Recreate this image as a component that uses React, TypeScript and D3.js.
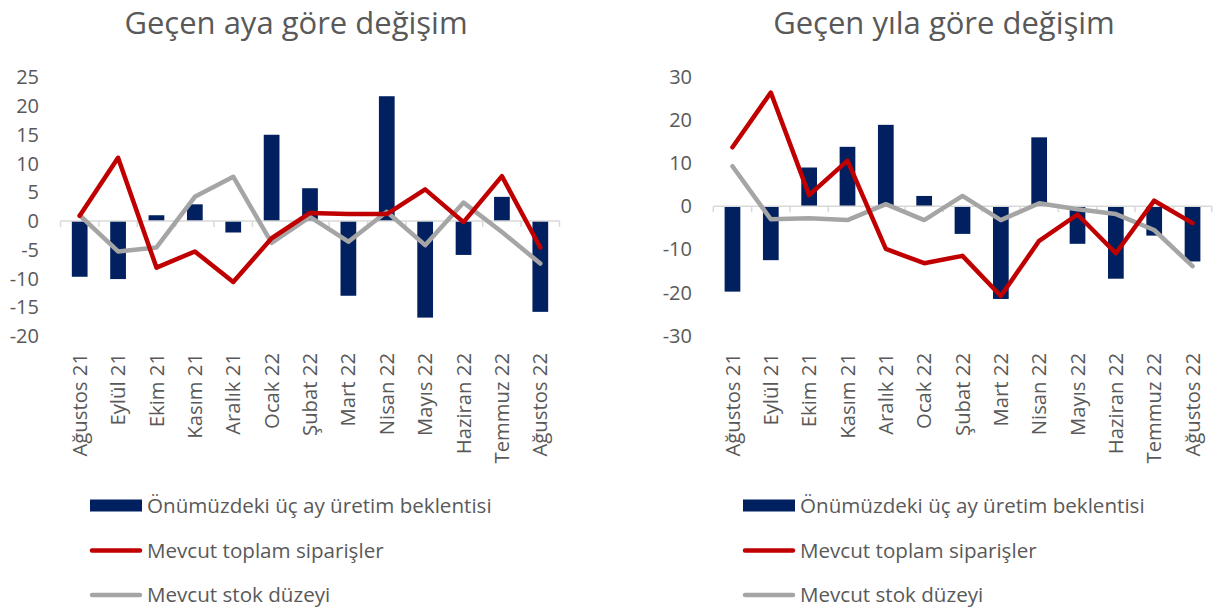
import React from 'react';
import * as d3 from 'd3';

const categories = ['Ağustos 21', 'Eylül 21', 'Ekim 21', 'Kasım 21', 'Aralık 21', 'Ocak 22', 'Şubat 22', 'Mart 22', 'Nisan 22', 'Mayıs 22', 'Haziran 22', 'Temmuz 22', 'Ağustos 22'];
const monthlyProduction = [-9.7, -10.1, 1.0, 2.9, -2.0, 15.0, 5.7, -13.0, 21.7, -16.8, -5.9, 4.2, -15.8];
const monthlyOrders = [0.9, 11.0, -8.1, -5.3, -10.6, -3.0, 1.4, 1.2, 1.2, 5.5, -0.2, 7.8, -4.6];
const monthlyStock = [1.0, -5.3, -4.6, 4.2, 7.7, -3.8, 0.7, -3.6, 1.6, -4.2, 3.2, -1.9, -7.4];
const annualProduction = [-19.8, -12.5, 9.0, 13.8, 18.9, 2.4, -6.4, -21.5, 16.0, -8.7, -16.8, -6.8, -12.8];
const annualOrders = [13.7, 26.4, 2.6, 10.6, -9.9, -13.2, -11.5, -20.8, -8.0, -1.9, -10.9, 1.3, -3.9];
const annualStock = [9.3, -3.0, -2.8, -3.2, 0.5, -3.2, 2.4, -3.2, 0.7, -0.7, -1.8, -5.5, -13.9];
const monthlyTicks = [-20, -15, -10, -5, 0, 5, 10, 15, 20, 25];
const annualTicks = [-30, -20, -10, 0, 10, 20, 30];
const seriesNames = ['Önümüzdeki üç ay üretim beklentisi', 'Mevcut toplam siparişler', 'Mevcut stok düzeyi'];
const titles = ['Geçen aya göre değişim', 'Geçen yıla göre değişim'];

const NAVY = '#002060';
const RED = '#C00000';
const GRAY = '#A5A5A5';
const TEXT = '#595959';
const FONT = "'Open Sans', 'Noto Sans', sans-serif";

type ChartProps = {
  x0: number; x1: number;
  domain: [number, number]; range: [number, number];
  ticks: number[];
  bars: number[]; orders: number[]; stock: number[];
  title: string; titleX: number;
  labelRight: number;
  legendX: number;
};

function Chart(p: ChartProps) {
  const x = d3.scaleBand<string>().domain(categories).range([p.x0, p.x1]).paddingInner(0).paddingOuter(0);
  const y = d3.scaleLinear().domain(p.domain).range(p.range);
  const bw = x.bandwidth();
  const barW = bw * 0.41;
  const cx = (c: string) => (x(c) as number) + bw / 2;
  const line = d3.line<number>().x((_, i) => cx(categories[i])).y(d => y(d));
  const y0 = y(0);
  const legendRows = [505.5, 550.5, 595];
  return (
    <g>
      <text x={p.titleX} y={34} textAnchor="middle" fontSize={31} fill={TEXT} fontFamily={FONT}>{p.title}</text>
      {p.ticks.map(t => (
        <text key={t} x={p.labelRight} y={y(t)} dy="0.35em" textAnchor="end" fontSize={20} fill={TEXT} fontFamily={FONT}>{t}</text>
      ))}
      {p.bars.map((v, i) => {
        const c = categories[i];
        return <rect key={c} x={cx(c) - barW / 2} y={Math.min(y(v), y0)} width={barW} height={Math.abs(y(v) - y0)} fill={NAVY} />;
      })}
      <line x1={p.x0} x2={p.x1} y1={y0} y2={y0} stroke="#D9D9D9" strokeWidth={1.5} />
      {d3.range(categories.length + 1).map(i => {
        const xx = p.x0 + i * bw;
        return <line key={i} x1={xx} x2={xx} y1={y0} y2={y0 + 6} stroke="#D9D9D9" strokeWidth={1.5} />;
      })}
      <path d={line(p.stock) || ''} fill="none" stroke={GRAY} strokeWidth={4.5} strokeLinejoin="round" strokeLinecap="round" />
      <path d={line(p.orders) || ''} fill="none" stroke={RED} strokeWidth={4.5} strokeLinejoin="round" strokeLinecap="round" />
      {categories.map(c => (
        <text key={c} transform={`translate(${cx(c)},353) rotate(-90)`} textAnchor="end" dy="0.35em" fontSize={20.3} fill={TEXT} fontFamily={FONT}>{c}</text>
      ))}
      <rect x={p.legendX} y={legendRows[0] - 6} width={52} height={12} fill={NAVY} />
      <line x1={p.legendX + 2} x2={p.legendX + 50} y1={legendRows[1]} y2={legendRows[1]} stroke={RED} strokeWidth={4.5} strokeLinecap="round" />
      <line x1={p.legendX + 2} x2={p.legendX + 50} y1={legendRows[2]} y2={legendRows[2]} stroke={GRAY} strokeWidth={4.5} strokeLinecap="round" />
      {seriesNames.map((s, i) => (
        <text key={s} x={p.legendX + 57} y={legendRows[i]} dy="0.35em" fontSize={20.6} fill={TEXT} fontFamily={FONT}>{s}</text>
      ))}
    </g>
  );
}

export default function App() {
  return (
    <svg width={1214} height={612} style={{ position: 'absolute', left: 0, top: 0, display: 'block', background: '#fff' }}>
      <Chart x0={60.5} x1={559.5} domain={[-20, 25]} range={[336, 77.25]} ticks={monthlyTicks}
        bars={monthlyProduction} orders={monthlyOrders} stock={monthlyStock}
        title={titles[0]} titleX={296} labelRight={39} legendX={90} />
      <Chart x0={713.3} x1={1211.7} domain={[-30, 30]} range={[335.6, 77]} ticks={annualTicks}
        bars={annualProduction} orders={annualOrders} stock={annualStock}
        title={titles[1]} titleX={944} labelRight={692} legendX={743} />
    </svg>
  );
}
